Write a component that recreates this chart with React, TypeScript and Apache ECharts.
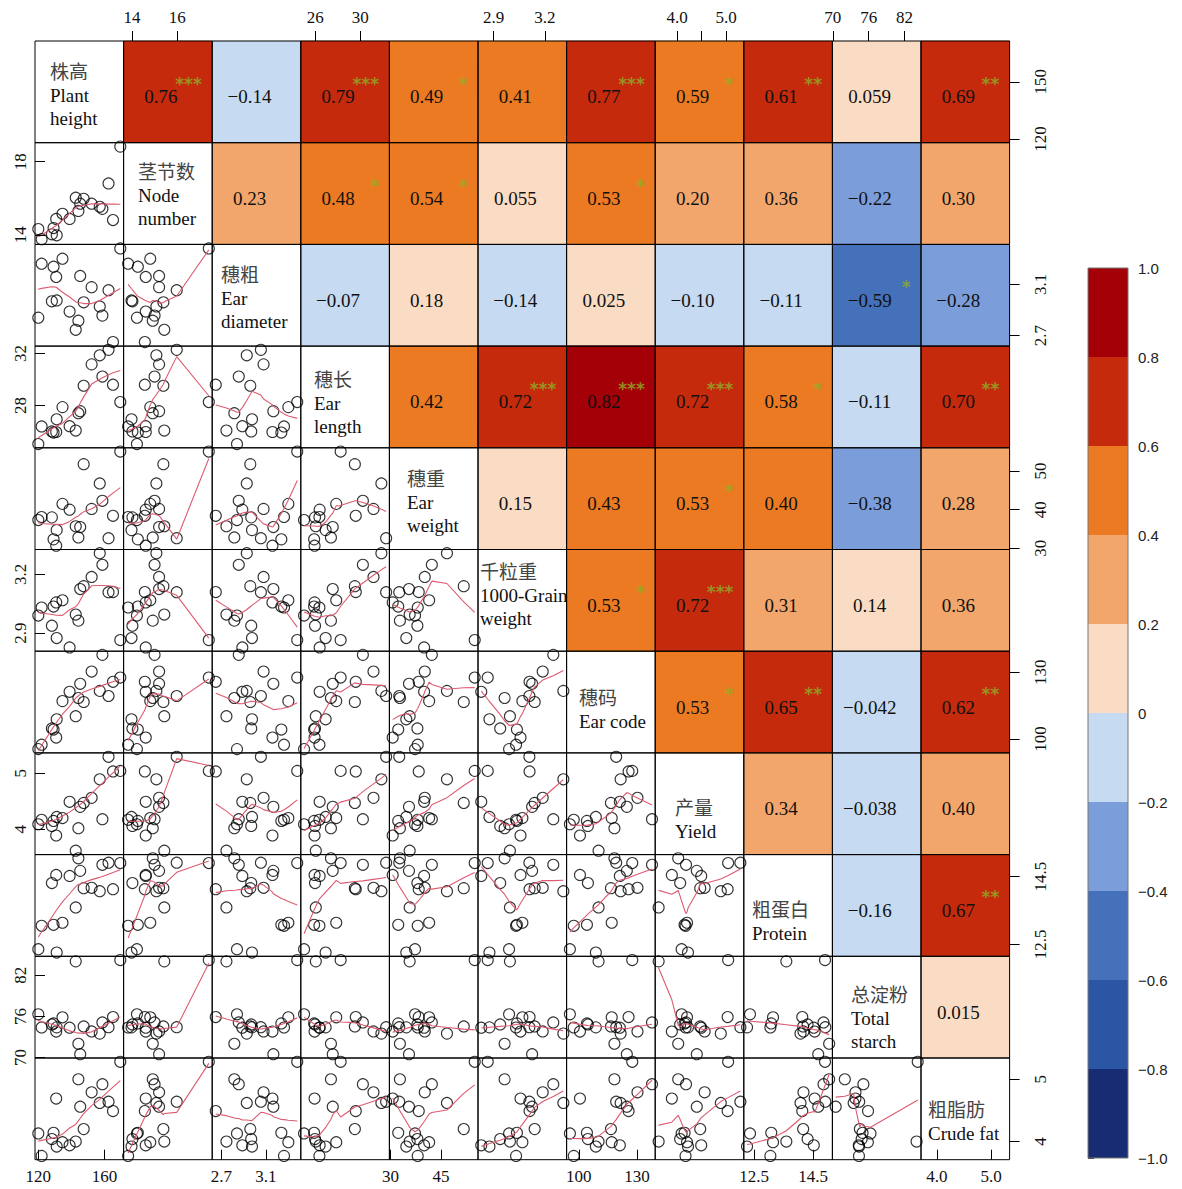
import React, { useEffect, useRef } from "react";
import * as echarts from "echarts";

// ---------------- data (18 observations) ----------------
const plantHeight = [120.0, 122.0, 128.2, 129.2, 130.8, 131.1, 134.6, 138.9, 142.6, 144.2, 145.3, 147.4, 152.2, 157.1, 158.7, 162.4, 165.1, 169.5];
const nodeNumber = [14.22, 13.83, 14.02, 14.26, 14.61, 13.98, 14.81, 14.61, 15.43, 14.92, 15.2, 15.39, 15.2, 15.08, 15.0, 15.98, 14.57, 17.4];
const earDiameter = [2.84, 3.263, 2.968, 3.239, 3.159, 2.975, 3.302, 2.888, 2.745, 2.816, 3.167, 2.96, 3.079, 2.928, 2.856, 3.055, 2.649, 3.382];
const earLength = [25.02, 26.38, 25.99, 25.91, 25.95, 26.93, 27.87, 26.4, 26.06, 27.4, 27.56, 29.52, 31.17, 31.87, 30.23, 32.29, 29.6, 28.26];
const earWeight = [37.3, 38.1, 38.0, 32.3, 30.65, 34.7, 41.5, 40.0, 35.7, 32.8, 35.5, 51.8, 40.2, 46.8, 42.3, 32.6, 38.4, 55.06];
const grainWeight = [2.99, 3.031, 2.938, 3.036, 3.057, 2.875, 3.068, 2.827, 2.995, 2.964, 3.125, 3.14, 3.187, 3.308, 3.249, 3.109, 3.11, 2.865];
const earCode = [95.4, 97.4, 104.7, 104.2, 100.6, 108.8, 117.0, 121.2, 110.2, 118.4, 124.8, 116.6, 130.3, 121.6, 137.8, 119.3, 125.7, 127.6];
const yieldValue = [4.09, 4.17, 4.06, 4.15, 3.89, 4.22, 4.2, 4.49, 3.62, 4.02, 4.4, 4.47, 4.56, 4.89, 4.18, 5.29, 5.03, 5.04];
const protein = [12.36, 13.05, 14.31, 13.08, 14.55, 12.26, 13.14, 14.52, 13.59, 15.04, 14.67, 14.16, 14.17, 14.07, 14.85, 14.91, 14.13, 14.9];
const starch = [76.31, 74.38, 74.83, 74.98, 73.79, 74.4, 75.87, 74.35, 84.03, 72.01, 70.48, 74.53, 73.8, 73.49, 75.12, 74.42, 75.9, 84.22];
const crudeFat = [4.13, 3.77, 4.04, 4.14, 4.69, 3.92, 3.99, 3.94, 4.0, 5.0, 4.56, 4.2, 4.79, 4.62, 4.92, 4.64, 4.49, 5.28];

const VARS = [plantHeight, nodeNumber, earDiameter, earLength, earWeight, grainWeight, earCode, yieldValue, protein, starch, crudeFat];

const NAME_CN = ["株高", "茎节数", "穗粗", "穗长", "穗重", "千粒重", "穗码", "产量", "粗蛋白", "总淀粉", "粗脂肪"];
const NAME_EN = [["Plant", "height"], ["Node", "number"], ["Ear", "diameter"], ["Ear", "length"], ["Ear", "weight"], ["1000-Grain", "weight"], ["Ear code"], ["Yield"], ["Protein"], ["Total", "starch"], ["Crude fat"]];

// upper triangle: row i, columns i+1..10
const CORR_TEXT = [
  ["0.76", "\u22120.14", "0.79", "0.49", "0.41", "0.77", "0.59", "0.61", "0.059", "0.69"],
  ["0.23", "0.48", "0.54", "0.055", "0.53", "0.20", "0.36", "\u22120.22", "0.30"],
  ["\u22120.07", "0.18", "\u22120.14", "0.025", "\u22120.10", "\u22120.11", "\u22120.59", "\u22120.28"],
  ["0.42", "0.72", "0.82", "0.72", "0.58", "\u22120.11", "0.70"],
  ["0.15", "0.43", "0.53", "0.40", "\u22120.38", "0.28"],
  ["0.53", "0.72", "0.31", "0.14", "0.36"],
  ["0.53", "0.65", "\u22120.042", "0.62"],
  ["0.34", "\u22120.038", "0.40"],
  ["\u22120.16", "0.67"],
  ["0.015"],
];
const CORR_VALUE = [
  [0.76, -0.14, 0.79, 0.49, 0.41, 0.77, 0.59, 0.61, 0.059, 0.69],
  [0.23, 0.48, 0.54, 0.055, 0.53, 0.202, 0.36, -0.22, 0.3],
  [-0.07, 0.18, -0.14, 0.025, -0.1, -0.11, -0.59, -0.28],
  [0.42, 0.72, 0.82, 0.72, 0.58, -0.11, 0.7],
  [0.15, 0.43, 0.53, 0.403, -0.38, 0.28],
  [0.53, 0.72, 0.31, 0.14, 0.36],
  [0.53, 0.65, -0.042, 0.62],
  [0.34, -0.038, 0.397],
  [-0.16, 0.67],
  [0.015],
];
const CORR_STARS = [
  ["***", "", "***", "*", "", "***", "*", "**", "", "**"],
  ["", "*", "*", "", "*", "", "", "", ""],
  ["", "", "", "", "", "", "*", ""],
  ["", "***", "***", "***", "*", "", "**"],
  ["", "", "*", "", "", ""],
  ["*", "***", "", "", ""],
  ["*", "**", "", "**"],
  ["", "", ""],
  ["", "**"],
  [""],
];

// colour scale
const BAND_LOW = [-1, -0.8, -0.6, -0.4, -0.2, 0, 0.2, 0.4, 0.6, 0.8];
const BAND_COLOR = ["#172C72", "#2A56A4", "#4570BA", "#7B9EDB", "#C6DAF2", "#FADCC4", "#F2A66B", "#EC7A22", "#C52A0D", "#A40008"];

// axis ranges per variable
const AXIS_MIN = [118, 13.63, 2.617, 24.73, 29.67, 2.808, 93.7, 3.55, 12.15, 69.93, 3.709];
const AXIS_MAX = [171.5, 17.55, 3.414, 32.58, 56.04, 3.327, 139.45, 5.36, 15.15, 84.77, 5.341];

const TOP_TICKS: Record<number, [number, string][]> = {
  1: [[14, "14"], [16, "16"]],
  3: [[26, "26"], [30, "30"]],
  5: [[2.9, "2.9"], [3.2, "3.2"]],
  7: [[4, "4.0"], [4.5, ""], [5, "5.0"]],
  9: [[70, "70"], [76, "76"], [82, "82"]],
};
const BOTTOM_TICKS: Record<number, [number, string][]> = {
  0: [[120, "120"], [160, "160"]],
  2: [[2.7, "2.7"], [3.1, "3.1"]],
  4: [[30, "30"], [45, "45"]],
  6: [[100, "100"], [130, "130"]],
  8: [[12.5, "12.5"], [14.5, "14.5"]],
  10: [[4, "4.0"], [5, "5.0"]],
};
const LEFT_TICKS: Record<number, [number, string][]> = {
  1: [[14, "14"], [16.82, "18"]],
  3: [[28, "28"], [32, "32"]],
  5: [[2.9, "2.9"], [3.2, "3.2"]],
  7: [[4, "4"], [5, "5"]],
  9: [[70, "70"], [76, "76"], [82, "82"]],
};
const RIGHT_TICKS: Record<number, [number, string][]> = {
  0: [[120, "120"], [150, "150"]],
  2: [[2.7, "2.7"], [3.1, "3.1"]],
  4: [[30, "30"], [40, "40"], [50, "50"]],
  6: [[100, "100"], [130, "130"]],
  8: [[12.5, "12.5"], [14.5, "14.5"]],
  10: [[4, "4"], [5, "5"]],
};

// ---------------- layout ----------------
const N = 11;
const X0 = 35;
const Y0 = 41;
const CW = 88.6;
const CH = 101.7;
const DIAG_POS: [number, number][] = [
  [50, 72], [138, 172], [221, 275], [314, 380], [407, 479], [480, 572], [579, 698], [675, 808], [752, 910], [851, 995], [928, 1110],
];
const LINE_GAP = 23;
const SERIF = "'Liberation Serif', 'Noto Sans CJK SC', serif";

function lowess(xIn: number[], yIn: number[], f = 2 / 3, iter = 3): number[][] {
  const n = xIn.length;
  const order = xIn.map((_, i) => i).sort((a, b) => xIn[a] - xIn[b]);
  const x = order.map((i) => xIn[i]);
  const y = order.map((i) => yIn[i]);
  const ns = Math.max(2, Math.min(n, Math.floor(f * n + 1e-7)));
  const rw = new Array(n).fill(1);
  const fit = new Array(n).fill(0);
  const range = x[n - 1] - x[0];
  for (let it = 0; it <= iter; it++) {
    let nleft = 0;
    let nright = ns - 1;
    for (let i = 0; i < n; i++) {
      while (nright < n - 1 && x[i] - x[nleft] > x[nright + 1] - x[i]) {
        nleft++;
        nright++;
      }
      const h = Math.max(x[i] - x[nleft], x[nright] - x[i]);
      const h9 = 0.999 * h;
      const h1 = 0.001 * h;
      const w = new Array(n).fill(0);
      let a = 0;
      let j = nleft;
      while (j < n) {
        const r = Math.abs(x[j] - x[i]);
        if (r <= h9) {
          w[j] = (r <= h1 ? 1 : Math.pow(1 - Math.pow(r / h, 3), 3)) * rw[j];
          a += w[j];
        } else if (x[j] > x[i]) break;
        j++;
      }
      const nrt = j - 1;
      if (a <= 0) {
        fit[i] = y[i];
        continue;
      }
      for (let k = nleft; k <= nrt; k++) w[k] /= a;
      if (h > 0) {
        let c = 0;
        for (let k = nleft; k <= nrt; k++) c += w[k] * x[k];
        let b = x[i] - c;
        let cc = 0;
        for (let k = nleft; k <= nrt; k++) cc += w[k] * (x[k] - c) * (x[k] - c);
        if (Math.sqrt(cc) > 0.001 * range) {
          b /= cc;
          for (let k = nleft; k <= nrt; k++) w[k] *= b * (x[k] - c) + 1;
        }
      }
      let s = 0;
      for (let k = nleft; k <= nrt; k++) s += w[k] * y[k];
      fit[i] = s;
    }
    if (it === iter) break;
    const res = y.map((v, k) => v - fit[k]);
    const abs = res.map((v) => Math.abs(v)).sort((p, q) => p - q);
    const m = Math.floor(n / 2);
    const med = n % 2 === 0 ? (abs[m - 1] + abs[m]) / 2 : abs[m];
    const cmad = 6 * med;
    if (cmad < 1e-7) break;
    for (let k = 0; k < n; k++) {
      const r = Math.abs(res[k]) / cmad;
      rw[k] = r < 0.001 ? 1 : r <= 0.999 ? (1 - r * r) * (1 - r * r) : 0;
    }
  }
  return x.map((v, k) => [v, fit[k]]);
}

function tickLookup(ticks: [number, string][]) {
  return (v: number) => {
    let best = "";
    let d = Infinity;
    for (const [t, s] of ticks) {
      if (Math.abs(t - v) < d) {
        d = Math.abs(t - v);
        best = s;
      }
    }
    return best;
  };
}

function valueAxis(g: number, v: number, pos: string, ticks?: [number, string][], inside = false, rotate = 0, margin = 8) {
  const ax: any = {
    type: "value",
    gridIndex: g,
    min: AXIS_MIN[v],
    max: AXIS_MAX[v],
    position: pos,
    splitLine: { show: false },
    axisLine: { show: false },
    z: 6,
  };
  if (!ticks) {
    ax.axisTick = { show: false };
    ax.axisLabel = { show: false };
    return ax;
  }
  ax.axisTick = {
    show: true,
    inside,
    length: 10,
    customValues: ticks.map((t) => t[0]),
    lineStyle: { color: "#000", width: 1 },
  };
  ax.axisLabel = {
    show: true,
    customValues: ticks.filter((t) => t[1] !== "").map((t) => t[0]),
    formatter: tickLookup(ticks),
    rotate,
    margin,
    fontFamily: SERIF,
    fontSize: 17,
    color: "#111",
  };
  return ax;
}

function buildOption() {
  const grid: any[] = [];
  const xAxis: any[] = [];
  const yAxis: any[] = [];
  const series: any[] = [];
  const idx = Array.from({ length: N }, (_, i) => String(i));

  // big grid for the coloured upper triangle
  grid.push({ left: X0, top: Y0, width: CW * N, height: CH * N, show: false });
  xAxis.push({ type: "category", gridIndex: 0, data: idx, show: false });
  yAxis.push({ type: "category", gridIndex: 0, data: idx, inverse: true, show: false });

  const heat: any[] = [];
  const stars: any[] = [];
  for (let i = 0; i < N; i++) {
    for (let j = i + 1; j < N; j++) {
      heat.push([j, i, CORR_VALUE[i][j - i - 1]]);
      if (CORR_STARS[i][j - i - 1]) stars.push([j, i]);
    }
  }
  series.push({
    type: "heatmap",
    xAxisIndex: 0,
    yAxisIndex: 0,
    data: heat,
    silent: true,
    label: {
      show: true,
      offset: [-7, 5],
      fontFamily: SERIF,
      fontSize: 19,
      color: "#111",
      formatter: (p: any) => CORR_TEXT[p.data[1]][p.data[0] - p.data[1] - 1],
    },
  });
  series.push({
    type: "scatter",
    xAxisIndex: 0,
    yAxisIndex: 0,
    data: stars,
    symbolSize: 0,
    silent: true,
    z: 4,
    label: {
      show: true,
      position: "inside",
      align: "right",
      verticalAlign: "middle",
      offset: [34, -8],
      fontFamily: "'DejaVu Sans', sans-serif",
      fontWeight: "bold",
      fontSize: 17,
      color: "#8DB026",
      formatter: (p: any) => CORR_STARS[p.data[1]][p.data[0] - p.data[1] - 1],
    },
  });

  // one small grid per cell
  for (let i = 0; i < N; i++) {
    for (let j = 0; j < N; j++) {
      const g = grid.length;
      grid.push({
        left: X0 + j * CW,
        top: Y0 + i * CH,
        width: CW,
        height: CH,
        show: true,
        borderColor: "#000",
        borderWidth: 1,
        backgroundColor: "transparent",
        z: 5,
      });
      let xa;
      if (i === 0 && TOP_TICKS[j]) xa = valueAxis(g, j, "top", TOP_TICKS[j], false, 0, 15);
      else if (i === N - 1 && BOTTOM_TICKS[j]) xa = valueAxis(g, j, "bottom", BOTTOM_TICKS[j], true, 0, 8);
      else xa = valueAxis(g, j, "bottom");
      let ya;
      if (j === 0 && LEFT_TICKS[i]) ya = valueAxis(g, i, "left", LEFT_TICKS[i], true, 90, 6);
      else if (j === N - 1 && RIGHT_TICKS[i]) ya = valueAxis(g, i, "right", RIGHT_TICKS[i], false, 90, 22);
      else ya = valueAxis(g, i, "left");
      xAxis.push(xa);
      yAxis.push(ya);

      if (i > j) {
        const xs = VARS[j];
        const ys = VARS[i];
        series.push({
          type: "scatter",
          xAxisIndex: g,
          yAxisIndex: g,
          data: xs.map((v, k) => [v, ys[k]]),
          symbol: "circle",
          symbolSize: 11,
          silent: true,
          itemStyle: { color: "rgba(0,0,0,0)", borderColor: "#000", borderWidth: 1.1 },
          z: 3,
        });
        series.push({
          type: "line",
          xAxisIndex: g,
          yAxisIndex: g,
          data: lowess(xs, ys),
          showSymbol: false,
          silent: true,
          lineStyle: { color: "#DE5A70", width: 1.1 },
          z: 4,
        });
      }
    }
  }

  // colour bar
  const cb = grid.length;
  grid.push({ left: 1088, top: 268, width: 40, height: 890, show: true, borderColor: "#777", borderWidth: 1, z: 5 });
  xAxis.push({ type: "value", gridIndex: cb, min: 0, max: 1, show: false });
  yAxis.push({
    type: "value",
    gridIndex: cb,
    min: -1,
    max: 1,
    interval: 0.2,
    position: "right",
    splitLine: { show: false },
    axisLine: { show: false },
    axisTick: { show: true, length: 6, lineStyle: { color: "#333" } },
    axisLabel: {
      margin: 10,
      fontFamily: "'Liberation Sans', sans-serif",
      fontSize: 15,
      color: "#222",
      formatter: (v: number) => (Math.abs(v) < 1e-9 ? "0" : (v < 0 ? "\u2212" : "") + Math.abs(v).toFixed(1)),
    },
  });
  series.push({
    type: "custom",
    xAxisIndex: cb,
    yAxisIndex: cb,
    silent: true,
    data: BAND_LOW.map((lo, k) => [lo, lo + 0.2, k]),
    renderItem: (_p: any, api: any) => {
      const lo = api.value(0);
      const hi = api.value(1);
      const k = api.value(2);
      const a = api.coord([0, hi]);
      const b = api.coord([1, lo]);
      return {
        type: "rect",
        shape: { x: a[0], y: a[1], width: b[0] - a[0], height: b[1] - a[1] },
        style: { fill: BAND_COLOR[k] },
      };
    },
  });

  // diagonal names
  const graphic: any[] = [];
  for (let d = 0; d < N; d++) {
    const [x, y] = DIAG_POS[d];
    const lines = [NAME_CN[d], ...NAME_EN[d]];
    lines.forEach((t, li) => {
      graphic.push({
        type: "text",
        x,
        y: y + li * LINE_GAP,
        silent: true,
        style: {
          text: t,
          fontFamily: SERIF,
          fontSize: 19,
          fill: li === 0 ? "#444" : "#111",
          align: "left",
          verticalAlign: "middle",
        },
      });
    });
  }

  return {
    animation: false,
    backgroundColor: "#fff",
    grid,
    xAxis,
    yAxis,
    series,
    graphic,
    visualMap: {
      type: "piecewise",
      show: false,
      seriesIndex: 0,
      dimension: 2,
      pieces: BAND_LOW.map((lo, k) => ({ gte: lo, lt: lo + 0.2 + (k === 9 ? 0.001 : 0), color: BAND_COLOR[k] })),
    },
  };
}

export default function App() {
  const ref = useRef<HTMLDivElement>(null);
  useEffect(() => {
    const chart = echarts.init(ref.current!, null, { renderer: "svg" });
    chart.setOption(buildOption() as any);
    return () => chart.dispose();
  }, []);
  return <div ref={ref} style={{ position: "absolute", left: 0, top: 0, width: 1182, height: 1189, background: "#fff" }} />;
}
